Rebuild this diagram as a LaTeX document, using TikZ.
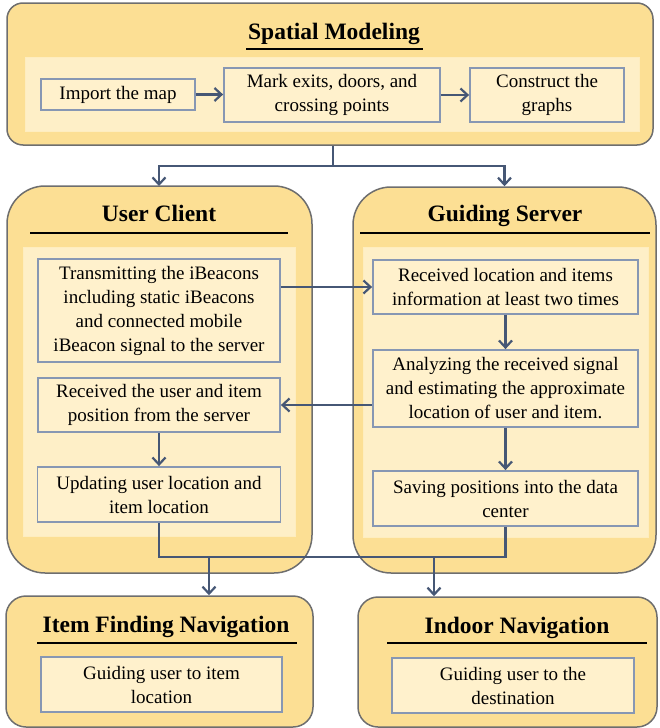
\documentclass[tikz,border=0pt]{standalone}
\usepackage{fontspec}
\setmainfont{Liberation Serif}
\usetikzlibrary{arrows.meta}
\definecolor{outerfill}{HTML}{FCDF94}
\definecolor{outerline}{HTML}{6E6E6E}
\definecolor{panelfill}{HTML}{FEEFC7}
\definecolor{boxfill}{HTML}{FFF1CC}
\definecolor{boxline}{HTML}{8797B3}
\definecolor{arrcol}{HTML}{465775}
\tikzset{
  x=1pt, y=-1pt,
  outer/.style={draw=outerline, line width=1.5pt, fill=outerfill, inner sep=0pt},
  panel/.style={draw=panelfill!85!outerfill, line width=0.8pt, fill=panelfill, inner sep=0pt},
  stepbox/.style={draw=boxline, line width=1.8pt, fill=boxfill, inner sep=0pt, align=center,
    font=\fontsize{19}{24}\selectfont},
  titletext/.style={font=\fontsize{23.5}{28}\selectfont\bfseries, inner sep=0pt, anchor=base},
  uline/.style={line width=1.6pt, black},
  conn/.style={draw=arrcol, line width=2.2pt},
  arr/.style={conn, -{Straight Barb[length=7pt,width=13pt]}},
}
\begin{document}
\begin{tikzpicture}
\useasboundingbox (0,0) rectangle (659,728);

% ---------- Spatial Modeling ----------
\node[outer, rounded corners=16pt, minimum width=646pt, minimum height=142pt] (spatial) at (330,74) {};
\node[titletext] (sptitle) at (334,39) {Spatial Modeling};
\draw[uline] (246,49) -- (423,49);
\node[panel, minimum width=614pt, minimum height=74pt] (sppanel) at (332,94) {};
\node[stepbox, minimum width=154pt, minimum height=31pt] (import) at (118,94.5) {Import the map};
\node[stepbox, minimum width=216pt, minimum height=54pt] (mark) at (332,95) {Mark exits, doors, and\\crossing points};
\node[stepbox, minimum width=154pt, minimum height=54pt] (construct) at (547,95) {Construct the\\graphs};
\draw[arr] (import.east) -- (import.east -| mark.west);
\draw[arr] (mark.east) -- (construct.west);

% ---------- User Client ----------
\node[outer, rounded corners=38pt, minimum width=305pt, minimum height=387pt] (client) at (159.5,379.5) {};
\node[titletext] (cltitle) at (159,221) {User Client};
\draw[uline] (30,233) -- (288,233);
\node[panel, minimum width=272pt, minimum height=289pt] (clpanel) at (159,391.5) {};
\node[stepbox, minimum width=242pt, minimum height=103pt] (trans) at (159,310.5)
  {Transmitting the iBeacons\\including static iBeacons\\and connected mobile\\iBeacon signal to the server};
\node[stepbox, minimum width=242pt, minimum height=54pt] (recv) at (159,405)
  {Received the user and item\\position from the server};
\node[stepbox, minimum width=243pt, minimum height=55pt] (update) at (159,494.5)
  {Updating user location and\\item location};

% ---------- Guiding Server ----------
\node[outer, rounded corners=38pt, minimum width=303pt, minimum height=386pt] (server) at (504.5,380) {};
\node[titletext] (svtitle) at (505,221) {Guiding Server};
\draw[uline] (360,233) -- (650,233);
\node[panel, minimum width=285pt, minimum height=290pt] (svpanel) at (505.5,392) {};
\node[stepbox, minimum width=265pt, minimum height=54pt] (recvloc) at (505.5,287)
  {Received location and items\\information at least two times};
\node[stepbox, minimum width=265pt, minimum height=77pt] (analyze) at (505.5,388.5)
  {Analyzing the received signal\\and estimating the approximate\\location of user and item.};
\node[stepbox, minimum width=265pt, minimum height=55pt] (saving) at (505.5,498.5)
  {Saving positions into the data\\center};

% ---------- Item Finding Navigation ----------
\node[outer, rounded corners=20pt, minimum width=307pt, minimum height=131pt] (itemnav) at (159.5,661.5) {};
\node[titletext] (intitle) at (166,632) {Item Finding Navigation};
\draw[uline] (37,643) -- (297,643);
\node[stepbox, minimum width=241pt, minimum height=55pt] (guideitem) at (161.5,684.5)
  {Guiding user to item\\location};

% ---------- Indoor Navigation ----------
\node[outer, rounded corners=20pt, minimum width=299pt, minimum height=130pt] (indoor) at (507.5,662) {};
\node[titletext] (idtitle) at (517,633) {Indoor Navigation};
\draw[uline] (387,643) -- (647,643);
\node[stepbox, minimum width=242pt, minimum height=55pt] (guidedest) at (513,685.5)
  {Guiding user to the\\destination};

% ---------- connectors ----------
\coordinate (split) at (333,166);
\draw[conn] (spatial.south -| split) -- (split);
\draw[arr] (split) -| (159,186);
\draw[arr] (split) -| (server.north);

\draw[arr] (trans.east |- recvloc.west) -- (recvloc.west);
\draw[arr] (analyze.west |- recv.east) -- (recv.east);
\draw[arr] (recv.south) -- (update.north);
\draw[arr] (recvloc.south) -- (analyze.north);
\draw[arr] (analyze.south) -- (saving.north);

\coordinate (join) at (159,557);
\draw[conn] (update.south) -- (join) -- (join -| saving.south) -- (saving.south);
\coordinate (jl) at (209,557);
\coordinate (jr) at (434,557);
\draw[arr] (jl) -- (jl |- itemnav.north);
\draw[arr] (jr) -- (jr |- indoor.north);
\end{tikzpicture}
\end{document}
